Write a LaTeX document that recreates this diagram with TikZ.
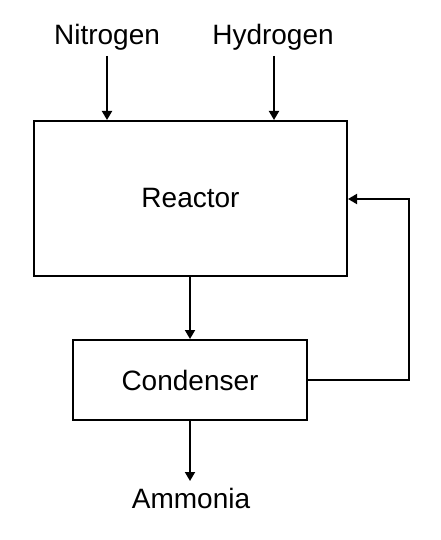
\documentclass[tikz,border=0pt]{standalone}
\usepackage{fontspec}
\setmainfont{Liberation Sans}
\usetikzlibrary{arrows.meta}
\begin{document}
\begin{tikzpicture}[x=1pt,y=-1pt,
  blk/.style={draw,line width=2pt,inner sep=0pt,font=\fontsize{28}{31}\selectfont},
  lbl/.style={inner sep=0pt,font=\fontsize{28}{31}\selectfont,anchor=base},
  arr/.style={line width=1.8pt,-{Triangle[length=9pt,width=10pt]}},
  ln/.style={line width=1.8pt}]
\useasboundingbox (0,0) rectangle (440,540);
\node[blk,minimum width=313pt,minimum height=155pt] (reactor) at (190.5,198.5) {Reactor};
\node[blk,minimum width=234pt,minimum height=80pt] (condenser) at (190,380) {Condenser};
\node[lbl] (nitrogen) at (107,45) {Nitrogen};
\node[lbl] (hydrogen) at (273,45) {Hydrogen};
\node[lbl] (ammonia) at (191,508) {Ammonia};
\coordinate (n1) at (107,56);
\coordinate (h1) at (274,56);
\coordinate (a1) at (190,481);
\coordinate (fb) at (409,199);
\draw[arr] (n1) -- (n1 |- reactor.north);
\draw[arr] (h1) -- (h1 |- reactor.north);
\draw[arr] (reactor.south -| condenser.north) -- (condenser.north);
\draw[arr] (condenser.south) -- (a1);
\draw[arr] (condenser.east) -| (fb) -- (fb -| reactor.east);
\end{tikzpicture}
\end{document}
